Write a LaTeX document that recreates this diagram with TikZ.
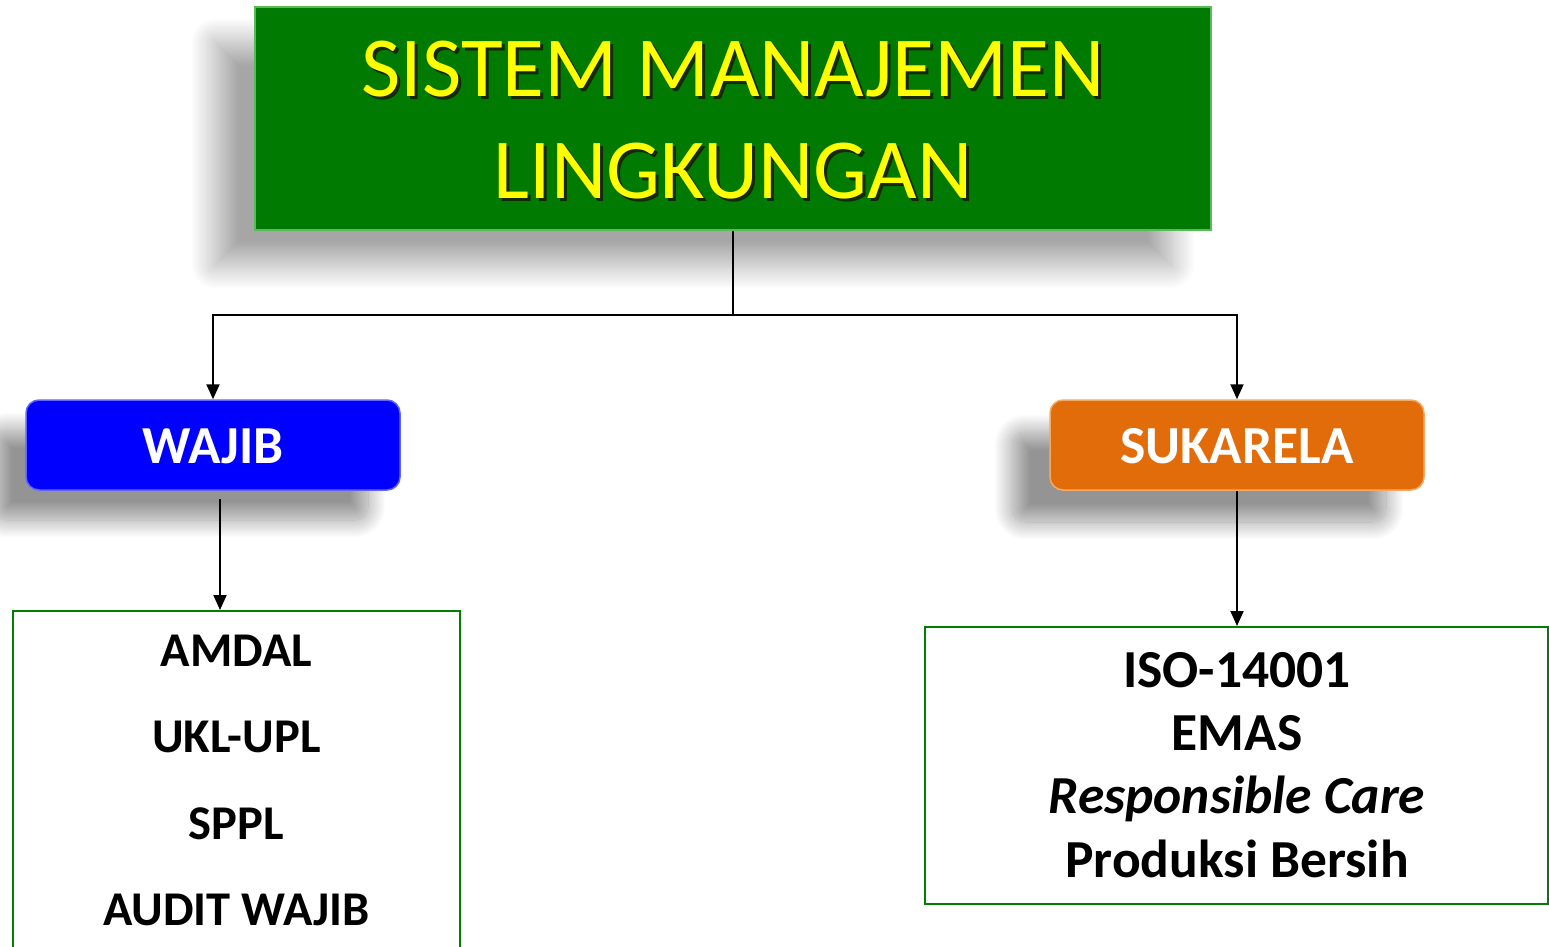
\documentclass[tikz,border=0pt]{standalone}
\usepackage{fontspec}
\setmainfont{Carlito}
\usetikzlibrary{arrows.meta,shadows.blur}
\definecolor{titlegreen}{RGB}{0,122,0}
\definecolor{titleedge}{RGB}{90,185,90}
\definecolor{titleyellow}{RGB}{255,255,0}
\definecolor{wajibblue}{RGB}{0,0,255}
\definecolor{wajibedge}{RGB}{100,100,255}
\definecolor{sukaorange}{RGB}{227,108,10}
\definecolor{sukaedge}{RGB}{245,170,100}
\definecolor{listgreen}{RGB}{0,128,0}
\definecolor{txtshadow}{RGB}{20,40,10}
\newcommand\dropshadowtext[1]{\makebox[0pt][l]{\kern3pt\raisebox{-3pt}{\color{txtshadow}#1}}#1}
\tikzset{
  titlebox/.style={rectangle, fill=titlegreen, draw=titleedge, line width=2pt,
    minimum width=956pt, minimum height=223pt, inner sep=0pt,
    blur shadow={shadow xshift=-40pt, shadow yshift=-35pt, shadow blur radius=24pt,
      shadow blur steps=24, shadow opacity=35}},
  titletext/.style={anchor=base, inner sep=0pt, text=titleyellow,
    font=\fontsize{85.5}{100}\selectfont},
  catbox/.style={rectangle, rounded corners=13pt, line width=1.5pt,
    minimum width=374pt, minimum height=90pt, inner sep=0pt},
  cattext/.style={anchor=base, inner sep=0pt, text=white,
    font=\fontsize{53.5}{60}\selectfont\bfseries},
  wajibbox/.style={catbox, fill=wajibblue, draw=wajibedge,
    blur shadow={shadow xshift=-32pt, shadow yshift=-30pt, shadow blur radius=18pt,
      shadow blur steps=20, shadow opacity=42}},
  sukabox/.style={catbox, fill=sukaorange, draw=sukaedge,
    blur shadow={shadow xshift=-38pt, shadow yshift=-32pt, shadow blur radius=18pt,
      shadow blur steps=20, shadow opacity=42}},
  listbox/.style={rectangle, draw=listgreen, line width=2pt, fill=white, inner sep=0pt},
  lefttext/.style={anchor=base, inner sep=0pt, font=\fontsize{48.5}{55}\selectfont\bfseries},
  righttext/.style={anchor=base, inner sep=0pt, font=\fontsize{53.5}{60}\selectfont\bfseries},
  conn/.style={draw=black, line width=2pt},
  arr/.style={conn, -{Triangle[length=15pt,width=13pt]}}
}
\begin{document}
\begin{tikzpicture}[x=1pt,y=-1pt]
\useasboundingbox (0,0) rectangle (1549,947);
\clip (0,0) rectangle (1549,947);

% title
\node[titlebox] (title) at (733,118.5) {};
\node[titletext] (title1) at (733,97) {\dropshadowtext{SISTEM MANAJEMEN}};
\node[titletext] (title2) at (733,198) {\dropshadowtext{LINGKUNGAN}};

% categories
\node[wajibbox] (wajib) at (213,445) {};
\node[cattext] (wajibtxt) at (213,463) {WAJIB};
\node[sukabox] (sukarela) at (1237,445) {};
\node[cattext] (sukatxt) at (1237,463) {SUKARELA};

% list boxes
\node[listbox, minimum width=447pt, minimum height=420pt] (wlist) at (236.5,821) {};
\node[lefttext] (amdal) at (236.5,666) {AMDAL};
\node[lefttext] (ukl) at (236.5,752) {UKL-UPL};
\node[lefttext] (sppl) at (236.5,839) {SPPL};
\node[lefttext] (audit) at (236.5,925) {AUDIT WAJIB};

\node[listbox, minimum width=623pt, minimum height=277pt] (slist) at (1236.5,765.5) {};
\node[righttext] (iso) at (1237,687) {ISO-14001};
\node[righttext] (emas) at (1237,750) {EMAS};
\node[righttext] (rc) at (1237,813) {\itshape Responsible Care};
\node[righttext] (pb) at (1237,877) {Produksi Bersih};

% connectors
\coordinate (split) at (733,315);
\draw[conn] (title.south) -- (split);
\draw[arr] (split) -| (wajib.north);
\draw[arr] (split) -| (sukarela.north);
\coordinate (wout) at (220,499);
\draw[arr] (wout) -- (wout |- wlist.north);
\draw[arr] (sukarela.south) -- (sukarela.south |- slist.north);
\end{tikzpicture}
\end{document}
